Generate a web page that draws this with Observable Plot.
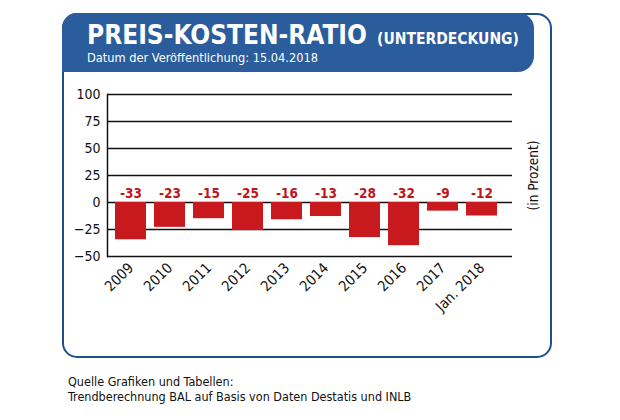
<!DOCTYPE html>
<html>
<head>
<meta charset="utf-8">
<script src="https://cdn.jsdelivr.net/npm/d3@7"></script>
<script src="https://cdn.jsdelivr.net/npm/@observablehq/plot@0.6"></script>
<style>
  html, body { margin: 0; padding: 0; background: #fff; }
  #wrap { position: relative; width: 620px; height: 420px; overflow: hidden; font-family: "DejaVu Sans Condensed", "DejaVu Sans", sans-serif; }
  #box { position: absolute; left: 62px; top: 13px; width: 486px; height: 341px; border: 2.5px solid #1f4f8c; border-radius: 15px; box-sizing: content-box; }
  #head { position: absolute; left: 62px; top: 13px; width: 472px; height: 59px; background: #2b5c9c; border-radius: 15px 15px 16px 0; }
  #title { position: absolute; left: 87px; top: 22px; font-size: 26px; line-height: 26px; font-weight: bold; color: #fff; white-space: nowrap; }
  #title span { font-size: 15.5px; margin-left: 2px; }
  #sub { position: absolute; left: 87px; top: 52px; font-size: 12.7px; line-height: 12.7px; color: #fff; white-space: nowrap; }
  #chart { position: absolute; left: 0; top: 0; }
  .foot { position: absolute; left: 68px; font-size: 12.5px; line-height: 12.5px; color: #111; white-space: nowrap; }
</style>
</head>
<body>
<div id="wrap">
  <div id="box"></div>
  <div id="head"></div>
  <div id="title">PREIS-KOSTEN-RATIO <span>(UNTERDECKUNG)</span></div>
  <div id="sub">Datum der Veröffentlichung: 15.04.2018</div>
  <div id="chart"></div>
  <div class="foot" style="top:376px">Quelle Grafiken und Tabellen:</div>
  <div class="foot" style="top:391px">Trendberechnung BAL auf Basis von Daten Destatis und INLB</div>
</div>
<script>
const years = ["2009", "2010", "2011", "2012", "2013", "2014", "2015", "2016", "2017", "Jan. 2018"];
const barValues = [-34.5, -23, -15, -26, -16, -13, -32.5, -40, -8, -12.5];
const labelValues = [-33, -23, -15, -25, -16, -13, -28, -32, -9, -12];
const yTicks = [-50, -25, 0, 25, 50, 75, 100];

const data = years.map((year, i) => ({year, value: barValues[i], label: labelValues[i]}));

const chart = Plot.plot({
  width: 620,
  height: 420,
  marginLeft: 107,
  marginRight: 108,
  marginTop: 94,
  marginBottom: 164,
  x: {domain: years, range: [105.4, 506.3], padding: 0.2, label: null},
  y: {domain: [-50, 100], label: null},
  style: {background: "transparent", fontFamily: "'DejaVu Sans Condensed', 'DejaVu Sans', sans-serif", color: "#111"},
  marks: [
    Plot.ruleY(yTicks, {stroke: "#111", strokeWidth: 1.5}),
    Plot.frame({anchor: "left", stroke: "#111", strokeWidth: 1.5}),
    Plot.barY(data, {x: "year", y: "value", fill: "#c8191e"}),
    Plot.text(data, {x: "year", y: 0, text: d => String(d.label), dy: -9, fill: "#c0161b", fontWeight: "bold", fontSize: 13.5}),
    Plot.axisY({ticks: yTicks, tickSize: 0, tickPadding: 7, fontSize: 14, label: null}),
    Plot.axisX({tickRotate: -45, tickSize: 0, tickPadding: 9, fontSize: 14.5, label: null}),
    Plot.text(["(in Prozent)"], {frameAnchor: "right", dx: 21, rotate: -90, textAnchor: "middle", fontSize: 13.5, fill: "#111"})
  ]
});
document.getElementById("chart").appendChild(chart);
</script>
</body>
</html>
